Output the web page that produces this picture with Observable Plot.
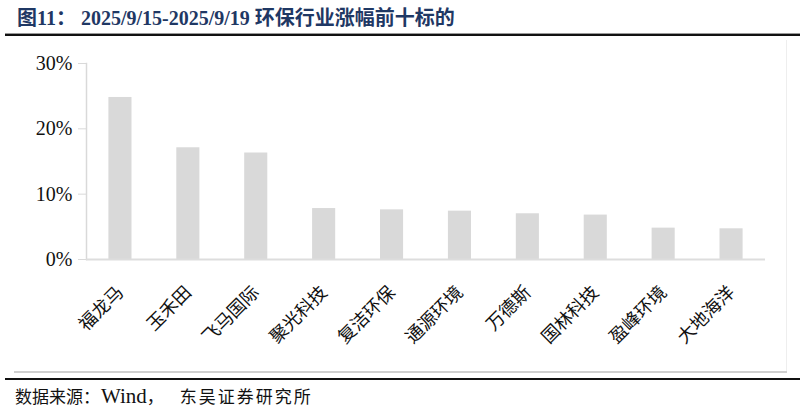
<!DOCTYPE html>
<html>
<head>
<meta charset="utf-8">
<script src="https://cdn.jsdelivr.net/npm/d3@7"></script>
<script src="https://cdn.jsdelivr.net/npm/@observablehq/plot@0.6"></script>
<style>
  html, body { margin: 0; padding: 0; background: #fff; }
  #wrap { position: relative; width: 805px; height: 413px; overflow: hidden; }
  #title { position: absolute; left: 17px; top: 6px; font-size: 20px; line-height: 24px; font-weight: bold; color: #1f3864; font-family: "Liberation Serif", "Noto Sans CJK SC", serif; white-space: nowrap; }
  #rule1 { position: absolute; left: 5px; top: 33px; width: 795px; height: 2px; background: #111; border-top: 1px solid #999; }
  #frameR { position: absolute; left: 786px; top: 40px; width: 1px; height: 332px; background: #eeeeee; }
  #frameB { position: absolute; left: 14px; top: 371px; width: 773px; height: 2px; background: #cfcfcf; }
  #rule2 { position: absolute; left: 5px; top: 378px; width: 795px; height: 2px; background: #111; }
  #caption { position: absolute; left: 15px; top: 384px; font-size: 17px; line-height: 24px; color: #111; font-family: "Liberation Serif", "Noto Sans CJK SC", serif; white-space: nowrap; }
  #caption .w { font-size: 21px; margin-left: 1px; }
  #caption .s { letter-spacing: 2px; margin-left: 16px; }
  #chart { position: absolute; left: 0; top: 40px; }
  #chart svg g[aria-label="y-axis tick label"] text { font-family: "Liberation Serif", serif; }
  #chart svg g[aria-label="x-axis tick label"] text { font-family: "Noto Sans CJK SC", sans-serif; }
</style>
</head>
<body>
<div id="wrap">
  <div id="title">图11：&nbsp;2025/9/15-2025/9/19 环保行业涨幅前十标的</div>
  <div id="rule1"></div>
  <div id="chart"></div>
  <div id="frameR"></div>
  <div id="frameB"></div>
  <div id="rule2"></div>
  <div id="caption">数据来源：<span class="w">Wind</span>，<span class="s">东吴证券研究所</span></div>
</div>
<script>
const companies = ["福龙马", "玉禾田", "飞马国际", "聚光科技", "复洁环保", "通源环境", "万德斯", "国林科技", "盈峰环境", "大地海洋"];
const gains = [0.248, 0.171, 0.163, 0.078, 0.076, 0.074, 0.07, 0.068, 0.048, 0.047];
const yTicks = [0, 0.1, 0.2, 0.3];

const data = companies.map((name, i) => ({name, value: gains[i]}));

const chart = Plot.plot({
  width: 805,
  height: 332,
  marginTop: 23,
  marginBottom: 113,
  marginLeft: 86,
  marginRight: 40,
  style: {background: "transparent", overflow: "visible"},
  x: {domain: companies, paddingInner: 0.66, paddingOuter: 0.33, round: false, label: null},
  y: {domain: [0, 0.3], label: null},
  marks: [
    Plot.barY(data, {x: "name", y: "value", fill: "#d9d9d9"}),
    Plot.frame({anchor: "left", stroke: "#d9d9d9", strokeWidth: 1.5}),
    Plot.ruleY([0], {stroke: "#dddddd", strokeWidth: 2}),
    Plot.axisY({
      ticks: yTicks,
      tickFormat: d => Math.round(d * 100) + "%",
      tickSize: 8,
      tickPadding: 6,
      stroke: "#d9d9d9",
      fill: "#111",
      fontSize: 20,
      label: null
    }),
    Plot.axisX({
      tickSize: 0,
      tickRotate: -45,
      tickPadding: 30,
      fill: "#111",
      fontSize: 18,
      label: null
    })
  ]
});
document.getElementById("chart").appendChild(chart);
</script>
</body>
</html>
